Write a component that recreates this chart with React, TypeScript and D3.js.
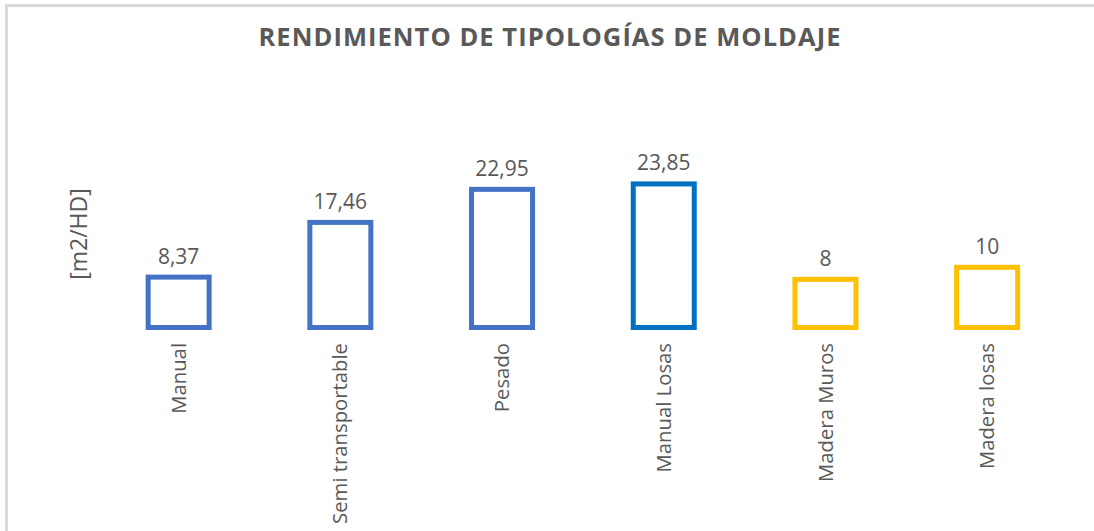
import React from "react";
import * as d3 from "d3";

const categories = ["Manual", "Semi transportable", "Pesado", "Manual Losas", "Madera Muros", "Madera losas"];
const values = [8.37, 17.46, 22.95, 23.85, 8, 10];
const valueLabels = ["8,37", "17,46", "22,95", "23,85", "8", "10"];
const barColors = ["#4472C4", "#4472C4", "#4472C4", "#0070C0", "#FFC000", "#FFC000"];
const title = "RENDIMIENTO DE TIPOLOGÍAS DE MOLDAJE";
const yTitle = "[m2/HD]";

const W = 1094;
const H = 531;
const FONT = "'Open Sans', 'Segoe UI', sans-serif";
const TXT = "#595959";

export default function App() {
  const x = d3.scaleBand<string>().domain(categories).range([97.8, 1068]).paddingInner(0.62).paddingOuter(0.31);
  const y = d3.scaleLinear().domain([0, 30]).range([327.5, 146.9]);
  const bw = 61;
  return (
    <svg width={W} height={H} style={{ position: "absolute", left: 0, top: 0, display: "block" }}>
      <rect x={0} y={0} width={W} height={H} fill="#fff" />
      <rect x={6.5} y={5.5} width={W + 20} height={H + 20} fill="#fff" stroke="#D9D9D9" strokeWidth={3} />
      <text x={550} y={46} textAnchor="middle" fontFamily={FONT} fontWeight={700} fontSize={25.5} fill={TXT} letterSpacing={1.05}>
        {title}
      </text>
      <text transform={`translate(87,234) rotate(-90)`} textAnchor="middle" fontFamily={FONT} fontSize={23} fill={TXT}>
        {yTitle}
      </text>
      {categories.map((c, i) => {
        const cx = (x(c) as number) + x.bandwidth() / 2;
        const top = y(values[i]);
        return (
          <g key={c}>
            <rect x={cx - bw / 2} y={top} width={bw} height={y(0) - top} fill="none" stroke={barColors[i]} strokeWidth={5} />
            <text x={cx} y={top - 13.5} textAnchor="middle" fontFamily={FONT} fontSize={21} fill={TXT}>
              {valueLabels[i]}
            </text>
            <text transform={`translate(${cx},343) rotate(-90)`} textAnchor="end" dy="0.35em" fontFamily={FONT} fontSize={20.3} fill={TXT}>
              {c}
            </text>
          </g>
        );
      })}
    </svg>
  );
}
